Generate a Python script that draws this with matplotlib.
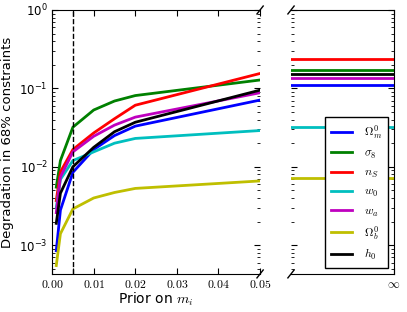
import numpy as np
import matplotlib
matplotlib.use('Agg')
import matplotlib.pyplot as plt

plt.rcParams['mathtext.fontset'] = 'cm'

# prior on m_i
priors = [0.001, 0.002, 0.005, 0.01, 0.015, 0.02, 0.05]

labels = [r'$\Omega_m^0$', r'$\sigma_8$', r'$n_S$', r'$w_0$', r'$w_a$', r'$\Omega_b^0$', r'$h_0$']
colors = ['b', 'g', 'r', 'c', 'm', 'y', 'k']

omega_m = [8.5e-4, 2.8e-3, 8.5e-3, 1.66e-2, 2.5e-2, 3.3e-2, 7.1e-2]
sigma_8 = [5.5e-3, 1.2e-2, 3.2e-2, 5.3e-2, 6.9e-2, 8.1e-2, 0.128]
n_s = [3.7e-3, 8.6e-3, 1.66e-2, 2.7e-2, 4.1e-2, 6.1e-2, 0.155]
w_0 = [3.0e-3, 6.9e-3, 1.2e-2, 1.55e-2, 2.0e-2, 2.3e-2, 2.9e-2]
w_a = [2.6e-3, 7.4e-3, 1.55e-2, 2.45e-2, 3.4e-2, 4.3e-2, 8.8e-2]
omega_b = [5.5e-4, 1.4e-3, 2.9e-3, 4.0e-3, 4.7e-3, 5.3e-3, 6.6e-3]
h_0 = [1.9e-3, 4.6e-3, 1.0e-2, 1.77e-2, 2.8e-2, 3.7e-2, 9.5e-2]

# no prior (infinite)
no_prior = [0.11, 0.17, 0.24, 0.032, 0.134, 7.3e-3, 0.152]

series = [omega_m, sigma_8, n_s, w_0, w_a, omega_b, h_0]

fig = plt.figure(figsize=(4.07, 3.12), dpi=100)
ax1 = fig.add_axes([0.128, 0.122, 0.511, 0.846])
ax2 = fig.add_axes([0.715, 0.122, 0.253, 0.846])

for vals, inf_val, c, lab in zip(series, no_prior, colors, labels):
    ax1.plot(priors, vals, color=c, lw=2)
    ax2.plot([0, 1], [inf_val, inf_val], color=c, lw=2, label=lab)

ax1.axvline(0.005, color='k', ls='--', lw=1)

for ax in (ax1, ax2):
    ax.set_yscale('log')
    ax.set_ylim(4.3e-4, 1)
    ax.tick_params(which='both', direction='in', top=True, right=True, labelsize=8.5)
    ax.tick_params(which='major', length=4, pad=3)
    ax.tick_params(which='minor', length=2)

ax1.set_xlim(0, 0.05)
ax1.set_xticks([0, 0.005, 0.01, 0.02, 0.03, 0.04, 0.05])
ax1.set_xticklabels([r'$0.00$', '', r'$0.01$', r'$0.02$', r'$0.03$', r'$0.04$', r'$0.05$'])
ax1.spines['right'].set_visible(False)
ax1.set_xlabel(r'Prior on $m_i$', fontsize=10, labelpad=0)
ax1.set_ylabel('Degradation in 68% constraints', fontsize=9.5, labelpad=4)

ax2.set_xlim(0, 1)
ax2.set_xticks([1])
ax2.set_xticklabels([r'$\infty$'])
ax2.spines['left'].set_visible(False)
ax2.tick_params(labelleft=False)

# break marks
d = 0.015
kw = dict(transform=ax1.transAxes, color='k', clip_on=False, lw=1)
ax1.plot((1 - d, 1 + d), (-d, +d), **kw)
ax1.plot((1 - d, 1 + d), (1 - d, 1 + d), **kw)
d2 = d * 0.511 / 0.253
kw.update(transform=ax2.transAxes)
ax2.plot((-d2, +d2), (-d, +d), **kw)
ax2.plot((-d2, +d2), (1 - d, 1 + d), **kw)

ax2.legend(loc='lower right', fontsize=8.5, labelspacing=0.45, fancybox=False,
           edgecolor='k', handlelength=1.8, handletextpad=1.0,
           borderaxespad=0.5, borderpad=0.5, framealpha=1)

fig.savefig('out.png', dpi=100)
